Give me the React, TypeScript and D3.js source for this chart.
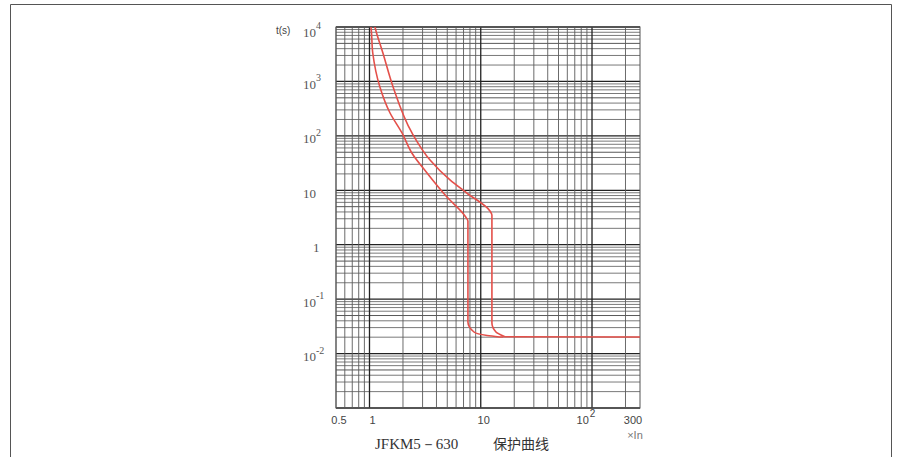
import React from 'react';
import * as d3 from 'd3';

const W = 902;
const H = 457;

// axis domains / ticks
const xDomain: [number, number] = [0.5, 270];
const yDomain: [number, number] = [1e-3, 1e4];
const xTickValues = [0.5, 1, 10, 100];
const xTickBase = ['0.5', '1', '10', '10'];
const xTickSup = ['', '', '', '2'];
const xEndLabel = '300';
const xUnitLabel = '×In';
const yTickValues = [1e4, 1e3, 1e2, 10, 1, 0.1, 0.01];
const yTickBase = ['10', '10', '10', '10', '1', '10', '10'];
const yTickSup = ['4', '3', '2', '', '', '-1', '-2'];
const yUnitLabel = 't(s)';
const captionModel = 'JFKM5－630';
const captionTitle = '保护曲线';

// curves (multiple of In, seconds); last point is the end of the flat tail
const lowCurveX = [1.0, 1.03, 1.07, 1.24, 1.53, 1.96, 2.41, 3.29, 4.97, 7.21, 7.67, 7.67, 8.69, 11.4, 14.8, 16];
const lowCurveY = [1.3e4, 1e4, 3330, 790, 263, 113, 48, 20.8, 7.5, 3.37, 2.73, 0.038, 0.0249, 0.0215, 0.0202, 0.0202];
const highCurveX = [1.09, 1.12, 1.32, 1.63, 2.41, 3.5, 5.29, 7.5, 12.1, 12.6, 12.6, 13.7, 16.5, 270];
const highCurveY = [1.3e4, 1e4, 3330, 790, 113, 36, 15.5, 8.9, 4.17, 3.52, 0.0365, 0.0249, 0.0204, 0.0202];

const M = { left: 336, right: 640, top: 27, bottom: 408 };

export default function App() {
  const x = d3.scaleLog().domain(xDomain).range([M.left, M.right]);
  const y = d3.scaleLog().domain(yDomain).range([M.bottom, M.top]);

  const xGrid: { v: number; major: boolean }[] = [];
  for (let e = -1; e <= 2; e++) {
    for (let k = 1; k <= 9; k++) {
      const v = k * Math.pow(10, e);
      if (v >= xDomain[0] - 1e-9 && v <= xDomain[1]) xGrid.push({ v, major: k === 1 });
    }
  }
  const yGrid: { v: number; major: boolean; k: number }[] = [];
  for (let e = -3; e <= 4; e++) {
    for (let k = 1; k <= 9; k++) {
      const v = k * Math.pow(10, e);
      if (v >= yDomain[0] * 0.999 && v <= yDomain[1] * 1.001) yGrid.push({ v, major: k === 1, k });
    }
  }

  const line = d3
    .line<[number, number]>()
    .x((d) => x(d[0]))
    .y((d) => y(d[1]))
    .curve(d3.curveMonotoneY);

  const buildPath = (xs: number[], ys: number[]) => {
    const pts = xs.map((v, i) => [v, ys[i]] as [number, number]);
    const head = pts.slice(0, pts.length - 1);
    const last = pts[pts.length - 1];
    return (line(head) || '') + `L${x(last[0])},${y(last[1])}`;
  };

  const red = '#e4504a';

  return (
    <svg
      width={W}
      height={H}
      style={{ position: 'absolute', left: 0, top: 0, display: 'block', background: '#fff' }}
    >
      <defs>
        <clipPath id="plotClip">
          <rect x={M.left} y={M.top} width={M.right - M.left} height={M.bottom - M.top} />
        </clipPath>
      </defs>
      <path d={`M10.5,${H + 5} V4.5 H891.5 V${H + 5}`} fill="none" stroke="#555" strokeWidth={1} />

      <g>
        {yGrid.map((g, i) => (
          <line
            key={'y' + i}
            x1={M.left}
            x2={M.right}
            y1={y(g.v)}
            y2={y(g.v)}
            stroke={g.major ? '#222' : g.k === 5 ? '#444' : '#6a6a6a'}
            strokeWidth={g.major ? 1.3 : 0.9}
          />
        ))}
        {xGrid.map((g, i) => (
          <line
            key={'x' + i}
            x1={x(g.v)}
            x2={x(g.v)}
            y1={M.top}
            y2={M.bottom}
            stroke={g.major ? '#222' : '#5a5a5a'}
            strokeWidth={g.major ? 1.3 : 0.9}
          />
        ))}
        <rect
          x={M.left}
          y={M.top}
          width={M.right - M.left}
          height={M.bottom - M.top}
          fill="none"
          stroke="#555"
          strokeWidth={1}
        />
      </g>

      <g clipPath="url(#plotClip)">
        <path d={buildPath(lowCurveX, lowCurveY)} fill="none" stroke={red} strokeWidth={1.6} />
        <path d={buildPath(highCurveX, highCurveY)} fill="none" stroke={red} strokeWidth={1.6} />
      </g>

      <g fontFamily="'Liberation Serif', 'DejaVu Serif', serif" fill="#555">
        {yTickValues.map((v, i) => {
          const yy = y(v) + (i === 0 ? 5 : 3);
          const isOne = yTickBase[i] === '1';
          return (
            <text key={'yl' + i} x={isOne ? 313 : 303} y={yy} fontSize={13} dominantBaseline="central">
              {yTickBase[i]}
              {yTickSup[i] && (
                <tspan fontSize={10} dy={-7}>
                  {yTickSup[i]}
                </tspan>
              )}
            </text>
          );
        })}
      </g>
      <text x={276} y={34} fontSize={10} fill="#444" fontFamily="'Liberation Sans', Arial, sans-serif">
        {yUnitLabel}
      </text>

      <g fontFamily="'Liberation Sans', Arial, sans-serif" fill="#444" fontSize={11}>
        {xTickValues.map((v, i) => (
          <text key={'xl' + i} x={x(v) + (xTickSup[i] ? -6 : 3)} y={424} textAnchor="middle">
            {xTickBase[i]}
            {xTickSup[i] && (
              <tspan fontSize={10} dy={-7} dx={1}>
                {xTickSup[i]}
              </tspan>
            )}
          </text>
        ))}
        <text x={x(xDomain[1]) - 7} y={424} textAnchor="middle">
          {xEndLabel}
        </text>
        <text x={x(xDomain[1]) - 5} y={439} textAnchor="middle" fill="#777">
          {xUnitLabel}
        </text>
      </g>

      <text x={375} y={449} fontSize={15} fill="#333" fontFamily="'Liberation Serif', serif">
        {captionModel}
      </text>
      <text x={493} y={449} fontSize={14} fill="#333" fontFamily="'Noto Sans CJK SC', sans-serif">
        {captionTitle}
      </text>
    </svg>
  );
}
